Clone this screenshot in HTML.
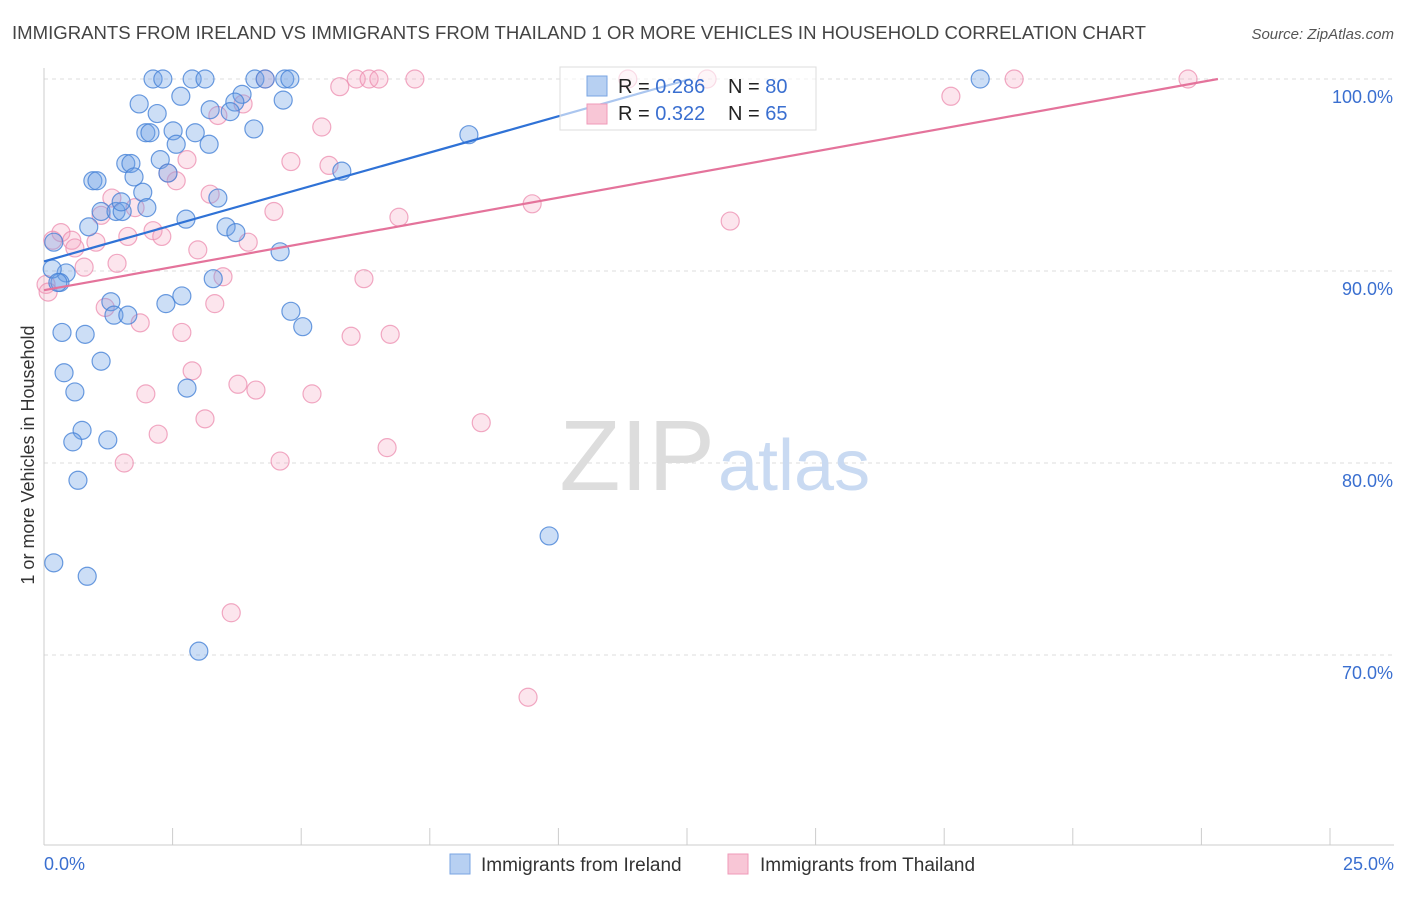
<!DOCTYPE html>
<html><head><meta charset="utf-8"><style>
body{margin:0;background:#fff;font-family:"Liberation Sans",sans-serif;}
svg text{font-family:"Liberation Sans",sans-serif;}
</style></head><body>
<svg id="chart" width="1406" height="892">
<text x="12" y="39" font-size="18" fill="#444" textLength="1134" lengthAdjust="spacingAndGlyphs">IMMIGRANTS FROM IRELAND VS IMMIGRANTS FROM THAILAND 1 OR MORE VEHICLES IN HOUSEHOLD CORRELATION CHART</text>
<text x="1394" y="39" font-size="15" fill="#555" font-style="italic" text-anchor="end">Source: ZipAtlas.com</text>
<text x="34" y="455" font-size="18" fill="#333" text-anchor="middle" transform="rotate(-90 34 455)">1 or more Vehicles in Household</text>
<g id="grid"></g>
<g id="axes"></g>
<text x="715" y="490" font-size="100" fill="#ddd" text-anchor="end" font-family="Liberation Serif">ZIP</text>
<text x="718" y="490" font-size="72" fill="#c9daf2">atlas</text>
<g id="pts"></g>
<g id="lines"></g>
<g>
<rect x="560" y="67" width="256" height="63" fill="#fff" fill-opacity="0.6" stroke="#ddd"/>
<rect x="587" y="76" width="20" height="20" fill="#b7d0f2" stroke="#7aa5e3"/>
<rect x="587" y="104" width="20" height="20" fill="#f8c6d6" stroke="#ef9ab8"/>
<text x="618" y="93" font-size="20" fill="#222">R = <tspan fill="#3a6fd0">0.286</tspan></text>
<text x="728" y="93" font-size="20" fill="#222">N = <tspan fill="#3a6fd0">80</tspan></text>
<text x="618" y="120" font-size="20" fill="#222">R = <tspan fill="#3a6fd0">0.322</tspan></text>
<text x="728" y="120" font-size="20" fill="#222">N = <tspan fill="#3a6fd0">65</tspan></text>
</g>
<g>
<rect x="450" y="854" width="20" height="20" fill="#b7d0f2" stroke="#7aa5e3"/>
<text x="481" y="871" font-size="19" fill="#333">Immigrants from Ireland</text>
<rect x="728" y="854" width="20" height="20" fill="#f8c6d6" stroke="#ef9ab8"/>
<text x="760" y="871" font-size="19" fill="#333">Immigrants from Thailand</text>
</g>
</svg>
<script>
const yTicks=[100,90,80,70];
const yTickLabels=["100.0%","90.0%","80.0%","70.0%"];
const xTickLabels=["0.0%","25.0%"];
const irelandX=[2.12,2.31,2.88,3.13,4.10,4.30,4.68,4.78,18.2,1.85,2.66,2.20,3.23,3.85,3.71,3.62,4.65,1.98,2.06,2.51,2.94,4.08,2.57,3.21,8.26,0.95,1.03,1.59,1.69,1.75,2.26,2.41,1.92,2.00,1.11,1.40,1.52,1.50,2.76,3.38,3.54,3.73,0.87,0.19,4.59,5.79,0.43,0.31,1.30,1.36,1.63,2.37,2.68,3.29,4.80,5.03,0.35,0.80,1.11,0.39,0.60,2.78,0.74,0.56,1.24,0.66,9.82,0.19,0.84,3.01,0.16,0.27];
const irelandY=[100,100,100,100,100,100,100,100,100,98.7,99.1,98.2,98.4,99.2,98.8,98.3,98.9,97.2,97.2,97.3,97.2,97.4,96.6,96.6,97.1,94.7,94.7,95.6,95.6,94.9,95.8,95.1,94.1,93.3,93.1,93.1,93.1,93.6,92.7,93.8,92.3,92.0,92.3,91.5,91.0,95.2,89.9,89.4,88.4,87.7,87.7,88.3,88.7,89.6,87.9,87.1,86.8,86.7,85.3,84.7,83.7,83.9,81.7,81.1,81.2,79.1,76.2,74.8,74.1,70.2,90.1,89.4];
const thaiX=[6.07,6.32,6.51,7.21,12.89,18.86,22.24,11.35,4.30,5.75,17.63,3.87,3.38,5.40,4.80,5.54,2.78,2.57,2.41,3.23,1.32,1.77,1.11,4.47,6.90,9.49,13.34,0.33,0.54,1.01,0.17,0.60,1.63,2.12,2.29,2.99,3.97,3.48,1.42,0.78,6.22,3.32,1.19,1.87,2.68,5.97,6.73,2.88,1.98,3.77,4.12,5.21,3.13,2.22,8.50,1.56,4.59,6.67,3.64,9.41,0.04,0.08];
const thaiY=[100,100,100,100,100,100,100,100,100,99.6,99.1,98.7,98.1,97.5,95.7,95.5,95.8,94.7,95.1,94.0,93.8,93.3,92.9,93.1,92.8,93.5,92.6,92.0,91.6,91.5,91.6,91.2,91.8,92.1,91.8,91.1,91.5,89.7,90.4,90.2,89.6,88.3,88.1,87.3,86.8,86.6,86.7,84.8,83.6,84.1,83.8,83.6,82.3,81.5,82.1,80.0,80.1,80.8,72.2,67.8,89.3,88.9];
const irelandTrend=[90.5,0.756];
const thaiTrend=[89.0,0.482];
const NS="http://www.w3.org/2000/svg";
const sx=v=>44+v/25*1286;
const sy=v=>79+(100-v)*19.2;
function mk(tag,attrs,parent){const e=document.createElementNS(NS,tag);for(const k in attrs)e.setAttribute(k,attrs[k]);parent.appendChild(e);return e;}
const grid=document.getElementById('grid'),axes=document.getElementById('axes');
yTicks.forEach((t,i)=>{
 const l=mk('line',{x1:44,x2:1394,y1:sy(t),y2:sy(t),stroke:'#ddd','stroke-dasharray':'4,4'},grid);
 
 
 const tx=mk('text',{x:1393,y:sy(t)+24,'font-size':18,fill:'#3a6fd0','text-anchor':'end'},axes);
 tx.textContent=yTickLabels[i];
 
 
});
mk('line',{x1:44,x2:44,y1:68,y2:845,stroke:'#ccc'},axes);
mk('line',{x1:44,x2:1394,y1:845,y2:845,stroke:'#ccc'},axes);
for(let i=0;i<=10;i++){const x=sx(i*2.5);mk('line',{x1:x,x2:x,y1:828,y2:845,stroke:'#ccc'},axes);}
[[0,'start',44],[25,'end',1394]].forEach((a,i)=>{
 const tx=mk('text',{x:a[2],y:870,'font-size':18,fill:'#3a6fd0','text-anchor':a[1]},axes);
 tx.textContent=xTickLabels[i];
 
 
});
const pts=document.getElementById('pts');
function series(X,Y,fill,stroke,name){
 X.forEach((x,i)=>{
  const c=mk('circle',{cx:sx(x),cy:sy(Y[i]),r:9,fill:fill,stroke:stroke,'stroke-width':1.2},pts);
  
  
 });
}
series(thaiX,thaiY,'rgba(244,160,190,0.28)','rgba(236,140,175,0.75)','thailand-point');
series(irelandX,irelandY,'rgba(110,160,230,0.35)','rgba(70,130,215,0.8)','ireland-point');
const lines=document.getElementById('lines');
function trend(tr,color,name){
 const xEnd=Math.min(25,(100-tr[0])/tr[1]);
 const l=mk('line',{x1:sx(0),y1:sy(tr[0]),x2:sx(xEnd),y2:sy(tr[0]+tr[1]*xEnd),stroke:color,'stroke-width':2.2},lines);
 
 
}
trend(irelandTrend,'#2f72d6','ireland-trend-line');
trend(thaiTrend,'#e4739b','thailand-trend-line');
</script>
</body></html>
